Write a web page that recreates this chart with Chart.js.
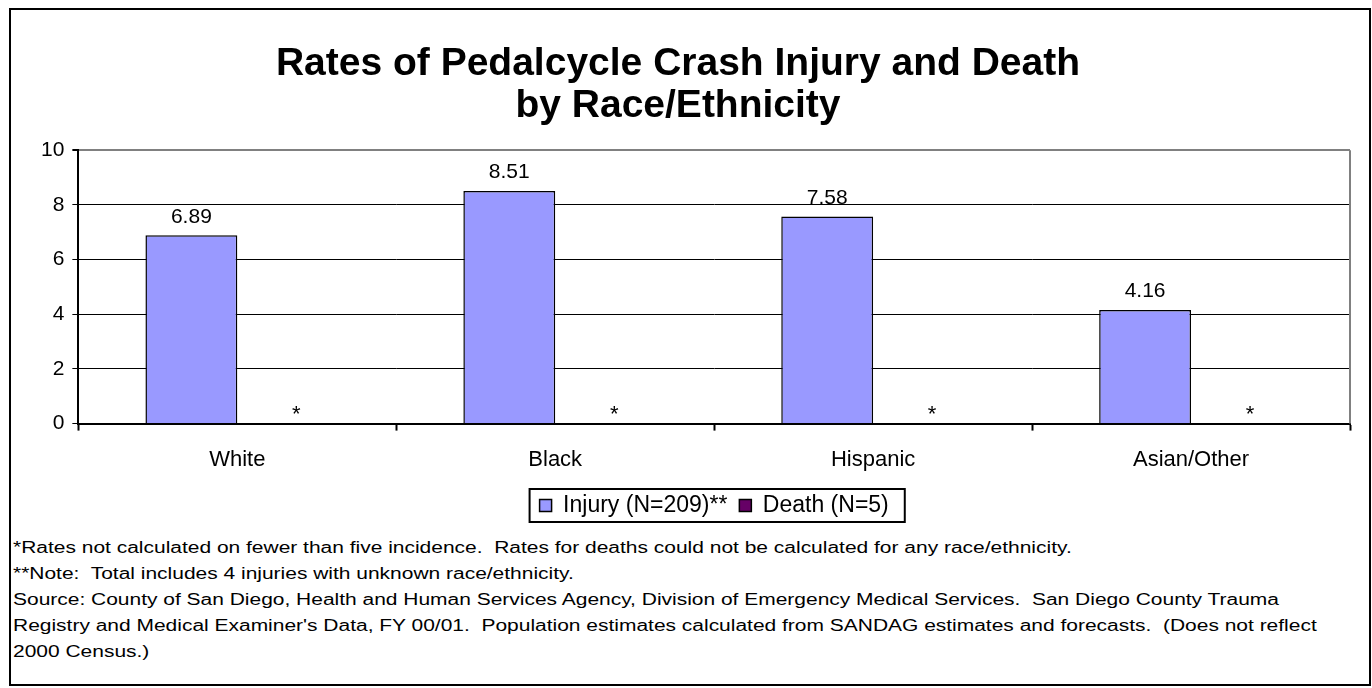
<!DOCTYPE html>
<html>
<head>
<meta charset="utf-8">
<script src="https://cdn.jsdelivr.net/npm/chart.js@4.4.0/dist/chart.umd.min.js"></script>
<style>
    body { margin: 0; background: #fff; font-family: 'Liberation Sans', Arial, sans-serif; }
    #frame {
        position: absolute; left: 9px; top: 8px; width: 1362px; height: 678px;
        border: 2px solid #000; box-sizing: border-box;
    }
    #chartBox { position: absolute; left: 0; top: 0; width: 1360px; height: 535px; }
    #notes {
        position: absolute; left: 13px; top: 535px;
        font-size: 16px; line-height: 26px; color: #000; white-space: pre;
        transform: scaleX(1.31); transform-origin: left top;
    }
</style>
</head>
<body>
<div id="frame"></div>
<div id="chartBox"><canvas id="rateChart"></canvas></div>
<div id="notes"></div>

<script>
const categories = ['White', 'Black', 'Hispanic', 'Asian/Other'];
const injuryRates = [6.89, 8.51, 7.58, 4.16];
const deathRates = [null, null, null, null];   // not calculated (fewer than five)
const deathMarks = ['*', '*', '*', '*'];
const yTicks = [0, 2, 4, 6, 8, 10];
const titleLines = ['Rates of Pedalcycle Crash Injury and Death', 'by Race/Ethnicity'];
const footnotes = [
    '*Rates not calculated on fewer than five incidence.  Rates for deaths could not be calculated for any race/ethnicity.',
    '**Note:  Total includes 4 injuries with unknown race/ethnicity.',
    'Source: County of San Diego, Health and Human Services Agency, Division of Emergency Medical Services.  San Diego County Trauma',
    "Registry and Medical Examiner's Data, FY 00/01.  Population estimates calculated from SANDAG estimates and forecasts.  (Does not reflect",
    '2000 Census.)'
];

const FONT = "'Liberation Sans', Arial, sans-serif";

document.getElementById('notes').textContent = footnotes.join('\n');

// value labels, asterisks, right plot border, legend box
const extrasPlugin = {
    id: 'extras',
    afterDatasetsDraw(chart) {
        const ctx = chart.ctx;
        const area = chart.chartArea;
        const yScale = chart.scales.y;

        ctx.save();
        ctx.strokeStyle = '#808080';
        ctx.lineWidth = 2;
        ctx.beginPath();
        ctx.moveTo(area.right, area.top);
        ctx.lineTo(area.right, area.bottom);
        ctx.stroke();

        ctx.fillStyle = '#000';
        ctx.font = '21px ' + FONT;
        ctx.textAlign = 'center';
        ctx.textBaseline = 'bottom';
        chart.getDatasetMeta(0).data.forEach((bar, i) => {
            ctx.fillText(injuryRates[i].toFixed(2), bar.x, bar.y - 8);
        });

        const base = yScale.getPixelForValue(0);
        ctx.font = '22px ' + FONT;
        ctx.textBaseline = 'alphabetic';
        chart.getDatasetMeta(1).data.forEach((bar, i) => {
            ctx.fillText(deathMarks[i], bar.x + 13, base - 3);
        });
        ctx.restore();
    },
    afterDraw(chart) {
        const legend = chart.legend;
        if (!legend || !legend.legendHitBoxes.length) return;
        const boxes = legend.legendHitBoxes;
        const first = boxes[0];
        const last = boxes[boxes.length - 1];
        const ctx = chart.ctx;
        ctx.save();
        ctx.strokeStyle = '#000';
        ctx.lineWidth = 2;
        ctx.strokeRect(first.left - 10, first.top - 5, last.left + last.width - first.left + 26, first.height + 10);
        ctx.restore();
    }
};

const rateChart = new Chart(document.getElementById('rateChart').getContext('2d'), {
    type: 'bar',
    data: {
        labels: categories,
        datasets: [{
            label: 'Injury (N=209)**',
            data: injuryRates,
            backgroundColor: '#9999FF',
            borderColor: '#000',
            borderWidth: 1.5,
            borderSkipped: 'bottom',
            categoryPercentage: 0.578,
            barPercentage: 1.0
        }, {
            label: 'Death (N=5)',
            data: deathRates,
            backgroundColor: '#660066',
            borderColor: '#000',
            borderWidth: 1.5,
            categoryPercentage: 0.578,
            barPercentage: 1.0
        }]
    },
    options: {
        responsive: true,
        maintainAspectRatio: false,
        animation: false,
        layout: { padding: { left: 6, right: 10, top: 0, bottom: 8 } },
        plugins: {
            title: {
                display: true,
                text: titleLines,
                color: '#000',
                font: { family: FONT, size: 39, weight: 'bold', lineHeight: 1.08 },
                padding: { top: 43, bottom: 23 }
            },
            legend: {
                position: 'bottom',
                fullSize: false,
                labels: {
                    color: '#000',
                    font: { family: FONT, size: 23 },
                    boxWidth: 12,
                    boxHeight: 12,
                    padding: 12
                }
            },
            tooltip: { enabled: false }
        },
        scales: {
            x: {
                afterFit(axis) {
                    axis.height -= 7;
                },
                grid: {
                    drawOnChartArea: false,
                    drawTicks: true,
                    tickLength: 7,
                    tickColor: '#000',
                    tickWidth: 2,
                    offset: true
                },
                border: { color: '#000', width: 2 },
                ticks: {
                    color: '#000',
                    font: { family: FONT, size: 22 },
                    padding: 16,
                    maxRotation: 0
                }
            },
            y: {
                min: 0,
                max: 10,
                afterBuildTicks(axis) {
                    axis.ticks = yTicks.map(v => ({ value: v }));
                },
                afterFit(axis) {
                    axis.width += 27;
                },
                grid: {
                    color: ctx => (ctx.tick && ctx.tick.value === 10 ? '#808080' : '#000'),
                    lineWidth: ctx => (ctx.tick && ctx.tick.value === 10 ? 2 : 1),
                    tickColor: '#000',
                    tickLength: 6
                },
                border: { color: '#000', width: 2 },
                ticks: {
                    color: '#000',
                    font: { family: FONT, size: 21 },
                    padding: 8
                }
            }
        }
    },
    plugins: [extrasPlugin]
});
</script>
</body>
</html>
